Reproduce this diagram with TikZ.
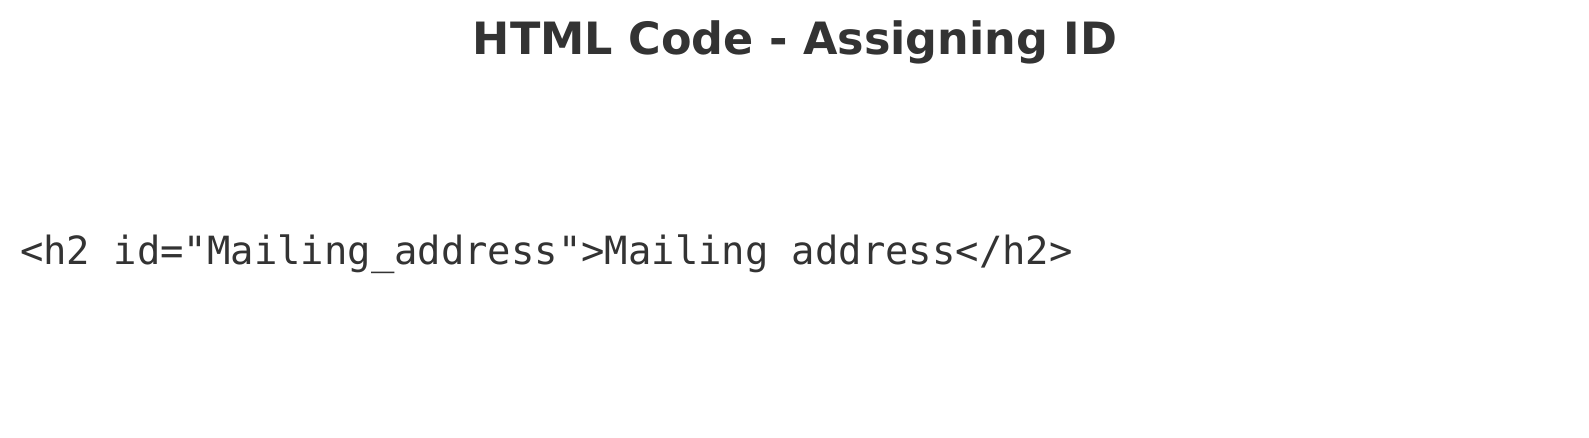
\documentclass[tikz,border=0pt]{standalone}
\usepackage{fontspec}
\setmainfont{DejaVu Sans}
\newfontfamily\codefont{DejaVu Sans Mono}
\definecolor{ink}{HTML}{333333}
\tikzset{
  titletext/.style={inner sep=0pt, anchor=base, text=ink, font=\fontsize{44.5}{54}\selectfont\bfseries},
  codetext/.style={inner sep=0pt, anchor=base west, text=ink, font=\codefont\fontsize{38.85}{46}\selectfont}
}
\begin{document}
\begin{tikzpicture}
\useasboundingbox[fill=white] (0pt,0pt) rectangle (1589pt,-437pt);
\node[titletext] (title) at (795pt,-54pt) {HTML Code - Assigning ID};
\node[codetext] (code) at (20pt,-264pt) {<h2 id="Mailing\_address">Mailing address</h2>};
\end{tikzpicture}
\end{document}
